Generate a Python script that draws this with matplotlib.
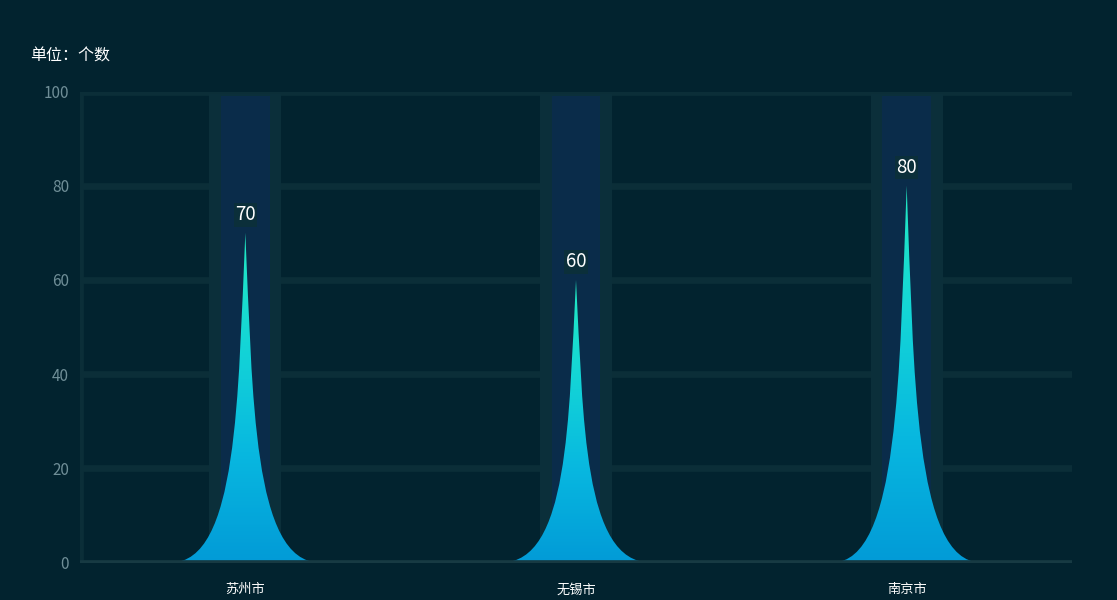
import matplotlib
matplotlib.use("Agg")
import matplotlib.pyplot as plt
import numpy as np
from matplotlib.path import Path
from matplotlib.patches import PathPatch
from matplotlib.colors import LinearSegmentedColormap

plt.rcParams['font.family'] = ['Noto Sans CJK SC', 'DejaVu Sans']

# data
cities = ["苏州市", "无锡市", "南京市"]
counts = [70, 60, 80]
y_ticks = [0, 20, 40, 60, 80, 100]
y_max = 100
unit_text = "单位：个数"

bg = "#02232f"
grid_c = "#0b2e38"
outer_c = "#0b2f3a"
inner_c = "#0a2c4a"
cmap = LinearSegmentedColormap.from_list("peak", ["#029bd7", "#08b8e0", "#14d6d6", "#22eac2"])

fig = plt.figure(figsize=(11.17, 6.0), dpi=100, facecolor=bg)
ax = fig.add_axes([80 / 1117, 37.5 / 600, 992 / 1117, 471 / 600])
ax.set_facecolor(bg)

x = np.arange(len(cities))

# grid lines
for t in y_ticks[1:]:
    ax.axhline(t, color=grid_c, lw=4.8, zorder=0)
ax.axhline(0, color="#173a43", lw=4.8, zorder=5)
ax.axvline(-0.5, ymin=0, ymax=1, color=grid_c, lw=5.5, zorder=0)

# background columns
ax.bar(x, [y_max * 0.995] * len(x), width=0.218, color=outer_c, zorder=1)
ax.bar(x, [y_max * 0.99] * len(x), width=0.147, color=inner_c, zorder=2)

# peak shapes with gradient
hw = 0.225
grad = np.linspace(0, 1, 256).reshape(-1, 1)
for xi, v in zip(x, counts):
    verts = [(xi - hw, 0), (xi + hw, 0),
             (xi + 0.1 * hw, 0), (xi + 0.1 * hw, v / 2), (xi, v),
             (xi - 0.1 * hw, v / 2), (xi - 0.1 * hw, 0), (xi - hw, 0),
             (xi - hw, 0)]
    codes = [Path.MOVETO, Path.LINETO,
             Path.CURVE4, Path.CURVE4, Path.CURVE4,
             Path.CURVE4, Path.CURVE4, Path.CURVE4,
             Path.CLOSEPOLY]
    patch = PathPatch(Path(verts, codes), facecolor="none", edgecolor="none", zorder=3)
    ax.add_patch(patch)
    im = ax.imshow(grad, cmap=cmap, extent=(xi - hw, xi + hw, 0, v), origin="lower",
                   aspect="auto", interpolation="bicubic", zorder=3)
    im.set_clip_path(patch)
    ax.text(xi, v + 1.6, str(v), ha="center", va="bottom", color="white", fontsize=13.5,
            zorder=6, bbox=dict(facecolor=outer_c, edgecolor="none", pad=1.0))

ax.set_xlim(-0.5, len(cities) - 0.5)
ax.set_ylim(0, y_max)
ax.set_xticks(x)
ax.set_xticklabels(cities, color="white", fontsize=9.5)
ax.set_yticks(y_ticks)
ax.set_yticklabels([str(t) for t in y_ticks], color="#6f8e97", fontsize=11)
ax.tick_params(axis="both", length=0)
ax.tick_params(axis="x", pad=15)
ax.tick_params(axis="y", pad=8)
for lbl in ax.get_yticklabels():
    lbl.set_va("center_baseline")
for s in ax.spines.values():
    s.set_visible(False)

fig.text(30 / 1117, 1 - 56 / 600, unit_text, color="white", fontsize=11.5, va="center", ha="left")

fig.savefig("out.png", dpi=100, facecolor=bg)
